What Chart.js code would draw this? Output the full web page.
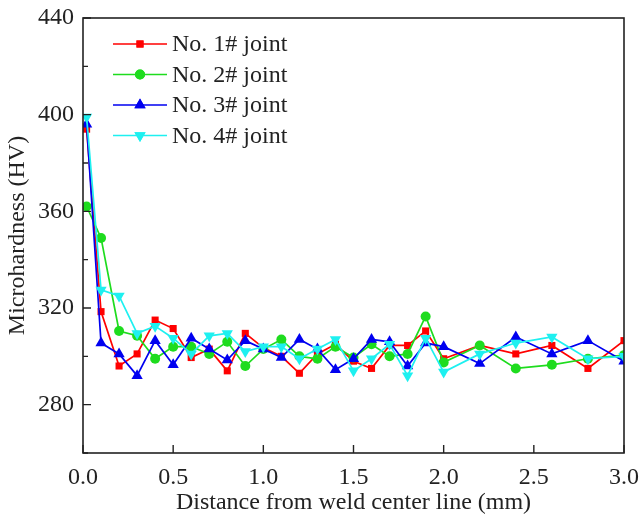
<!DOCTYPE html>
<html>
<head>
<meta charset="utf-8">
<script src="https://cdn.jsdelivr.net/npm/chart.js@4/dist/chart.umd.min.js"></script>
<style>
  html, body { margin: 0; padding: 0; background: #fff; }
  #wrap { width: 640px; height: 517px; }
</style>
</head>
<body>
<div id="wrap"><canvas id="hv"></canvas></div>
<script>
// distance from weld center line (mm)
const distance = [0.02, 0.1, 0.2, 0.3, 0.4, 0.5, 0.6, 0.7, 0.8, 0.9, 1.0,
  1.1, 1.2, 1.3, 1.4, 1.5, 1.6, 1.7, 1.8, 1.9, 2.0, 2.2, 2.4, 2.6, 2.8, 3.0]

// microhardness (HV) for each joint
const joint1 = [394, 318.5, 296, 301, 315, 311.5, 299.5, 303, 294, 309.5, 303.5,
  300, 293, 301, 305, 298, 295, 304.5, 304.5, 310.5, 299, 304.5, 301, 304.5, 295, 306.5]
const joint2 = [362, 349, 310.5, 308.5, 299, 304, 304, 301, 306, 296, 303,
  307, 300, 299, 304, 299.5, 305, 300, 301, 316.5, 297.5, 304.5, 295, 296.5, 299, 300.5]
const joint3 = [396, 305.5, 301, 292, 306.5, 296.5, 307.5, 303, 298.5, 306.5, 303,
  299.5, 307, 303, 294.5, 299, 307, 306, 296, 305.5, 304, 297, 308, 301, 306.5, 298]
const joint4 = [399, 327.5, 325, 309.5, 312.5, 307.5, 301, 308.5, 309.5, 302, 304,
  304, 299, 303, 307, 294, 299, 305, 292, 307.5, 293.5, 301, 305.5, 308, 299, 300]

const jointLabels = ['No. 1# joint', 'No. 2# joint', 'No. 3# joint', 'No. 4# joint']
const jointColors = ['#ff0000', '#1edc1e', '#0000f0', '#1ef0f0']

const yLabelTicks = [280, 320, 360, 400, 440]
const xTickLabels = ['0.0', '0.5', '1.0', '1.5', '2.0', '2.5', '3.0']

const serif = "'Liberation Serif', 'Times New Roman', serif"
const ink = '#222'
const fontSize = 24

const markers = [
  { pointStyle: 'rect', radius: 5, rotation: 0 },
  { pointStyle: 'circle', radius: 5, rotation: 0 },
  { pointStyle: 'triangle', radius: 6.5, rotation: 0 },
  { pointStyle: 'triangle', radius: 6.5, rotation: 180 },
]

const series = [joint1, joint2, joint3, joint4]

const datasets = series.map((vals, i) => ({
  label: jointLabels[i],
  data: vals.map((v, k) => ({ x: distance[k], y: v })),
  showLine: true,
  borderColor: jointColors[i],
  backgroundColor: jointColors[i],
  borderWidth: 1.7,
  pointStyle: markers[i].pointStyle,
  pointRotation: markers[i].rotation,
  pointRadius: markers[i].radius,
  pointBorderWidth: 0,
  order: 4 - i,
  clip: 0,
}))

// box round the plot, inward tick marks and the legend
const framePlugin = {
  id: 'frame',
  afterDraw(chart) {
    const { ctx, chartArea: a, scales } = chart
    ctx.save()
    ctx.strokeStyle = ink
    ctx.lineWidth = 1.6
    ctx.strokeRect(a.left, a.top, a.right - a.left, a.bottom - a.top)

    ctx.lineWidth = 1.4
    ctx.beginPath()
    scales.y.ticks.forEach(t => {
      const py = scales.y.getPixelForValue(t.value)
      const len = yLabelTicks.includes(t.value) ? 8 : 5
      ctx.moveTo(a.left, py)
      ctx.lineTo(a.left + len, py)
    })
    scales.x.ticks.forEach(t => {
      const px = scales.x.getPixelForValue(t.value)
      ctx.moveTo(px, a.bottom)
      ctx.lineTo(px, a.bottom - 8)
    })
    ctx.stroke()

    // legend
    chart.data.datasets.forEach((ds, i) => {
      const y = 44 + i * 30.5
      ctx.strokeStyle = ds.borderColor
      ctx.fillStyle = ds.backgroundColor
      ctx.lineWidth = 1.7
      ctx.beginPath()
      ctx.moveTo(113, y)
      ctx.lineTo(167, y)
      ctx.stroke()
      Chart.helpers.drawPoint(ctx, {
        pointStyle: ds.pointStyle,
        rotation: ds.pointRotation,
        radius: ds.pointRadius,
        borderWidth: 0,
      }, 140, y)
      ctx.fill()
      ctx.fillStyle = ink
      ctx.font = fontSize + 'px ' + serif
      ctx.textBaseline = 'middle'
      ctx.fillText(ds.label, 172, y + 1)
    })
    ctx.restore()
  }
}

new Chart(document.getElementById('hv'), {
  type: 'scatter',
  data: { datasets },
  options: {
    responsive: true,
    maintainAspectRatio: false,
    animation: false,
    layout: { padding: { top: 18, right: 16, left: 0, bottom: 0 } },
    plugins: {
      legend: { display: false },
      tooltip: { enabled: false },
    },
    scales: {
      x: {
        type: 'linear',
        min: 0,
        max: 3,
        afterFit: s => { s.height = 64; s.paddingLeft = 0; s.paddingRight = 0 },
        afterBuildTicks: s => { s.ticks = xTickLabels.map(v => ({ value: parseFloat(v) })) },
        grid: { display: false, drawTicks: false },
        border: { display: false },
        ticks: {
          padding: 10,
          color: ink,
          font: { family: serif, size: fontSize },
          callback: v => v.toFixed(1),
        },
        title: {
          display: true,
          text: 'Distance from weld center line (mm)',
          color: ink,
          font: { family: serif, size: fontSize },
          padding: 0,
        },
      },
      y: {
        min: 260,
        max: 440,
        afterFit: s => { s.width = 83; s.paddingTop = 0; s.paddingBottom = 0 },
        ticks: {
          stepSize: 20,
          padding: 9,
          color: ink,
          font: { family: serif, size: fontSize },
          callback: v => yLabelTicks.includes(v) ? String(v) : '',
        },
        grid: { display: false, drawTicks: false },
        border: { display: false },
        title: {
          display: true,
          text: 'Microhardness (HV)',
          color: ink,
          font: { family: serif, size: fontSize },
          padding: { top: 3, bottom: 0 },
        },
      },
    },
  },
  plugins: [framePlugin],
})
</script>
</body>
</html>
